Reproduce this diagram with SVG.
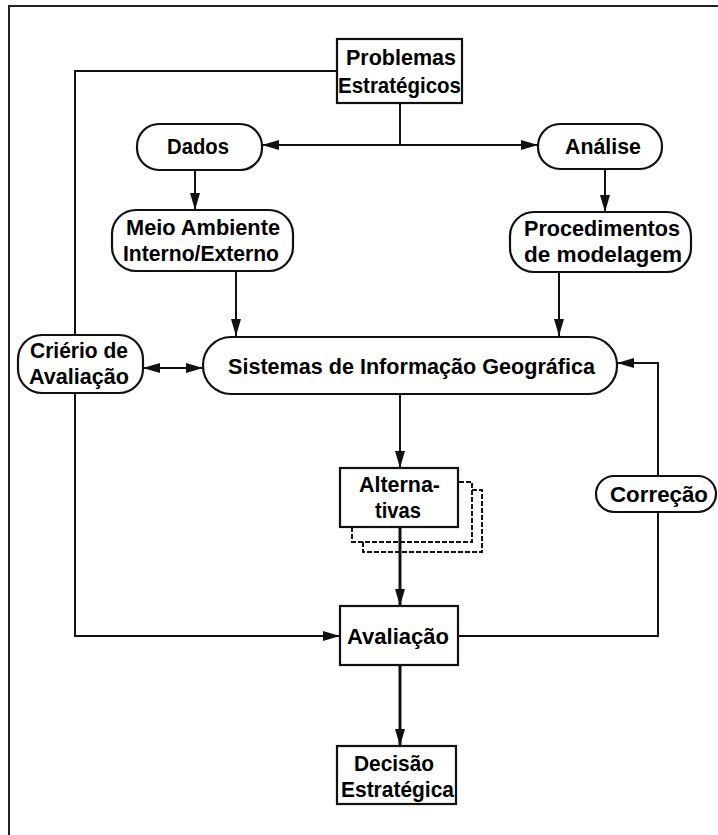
<svg xmlns="http://www.w3.org/2000/svg" width="718" height="835" viewBox="0 0 718 835">
<style>
.bg{fill:#fff}
.frame{fill:none;stroke:#222;stroke-width:2}
.box{fill:#fff;stroke:#111;stroke-width:2.2}
.ln{fill:none;stroke:#111;stroke-width:2}
.thk{fill:none;stroke:#111;stroke-width:3}
.dash{fill:none;stroke:#111;stroke-width:2;stroke-dasharray:5 2}
text{font-family:"Liberation Sans",Arial,sans-serif;font-weight:bold;font-size:22px;fill:#000}
</style>
<defs>
<marker id="ah" viewBox="0 0 17 10" refX="17" refY="5" markerWidth="17" markerHeight="10" markerUnits="userSpaceOnUse" orient="auto-start-reverse">
<path d="M0,0 L17,5 L0,10 Z" fill="#111"/>
</marker>
</defs>
<rect class="bg" x="0" y="0" width="718" height="835"/>
<path class="frame" d="M9,835 V6 H718"/>

<g id="connectors">
<path class="ln" d="M400,103 V145"/>
<path class="ln" d="M400,145 H262" marker-end="url(#ah)"/>
<path class="ln" d="M400,145 H538" marker-end="url(#ah)"/>
<path class="ln" d="M195,170 V210" marker-end="url(#ah)"/>
<path class="ln" d="M605,168 V212" marker-end="url(#ah)"/>
<path class="ln" d="M236,271 V336" marker-end="url(#ah)"/>
<path class="ln" d="M559,272 V336" marker-end="url(#ah)"/>
<path class="ln" d="M143,368 H203" marker-start="url(#ah)" marker-end="url(#ah)"/>
<path class="ln" d="M400,394 V468" marker-end="url(#ah)"/>
<path class="thk" d="M400,527 V606" marker-end="url(#ah)"/>
<path class="thk" d="M400,665 V746" marker-end="url(#ah)"/>
<path class="ln" d="M337,71 H75 V335"/>
<path class="ln" d="M75,393 V636 H340" marker-end="url(#ah)"/>
<path class="ln" d="M458,636 H658 V512"/>
<path class="ln" d="M658,476 V363 H617" marker-end="url(#ah)"/>
</g>

<g id="problemas">
<rect class="box" x="337" y="39" width="125" height="64"/>
<text x="346" y="65" textLength="110" lengthAdjust="spacingAndGlyphs">Problemas</text>
<text x="338" y="93" textLength="123" lengthAdjust="spacingAndGlyphs">Estratégicos</text>
</g>

<g id="dados">
<rect class="box" x="137" y="124" width="125" height="46" rx="22"/>
<text x="167" y="154" textLength="62" lengthAdjust="spacingAndGlyphs">Dados</text>
</g>

<g id="analise">
<rect class="box" x="538" y="124" width="124" height="45" rx="22"/>
<text x="565" y="154" textLength="76" lengthAdjust="spacingAndGlyphs">Análise</text>
</g>

<g id="meio">
<rect class="box" x="112" y="210" width="181" height="61" rx="24"/>
<text x="126" y="235" textLength="154" lengthAdjust="spacingAndGlyphs">Meio Ambiente</text>
<text x="123" y="261" textLength="156" lengthAdjust="spacingAndGlyphs">Interno/Externo</text>
</g>

<g id="procedimentos">
<rect class="box" x="510" y="212" width="181" height="60" rx="24"/>
<text x="524" y="236" textLength="156" lengthAdjust="spacingAndGlyphs">Procedimentos</text>
<text x="524" y="262" textLength="158" lengthAdjust="spacingAndGlyphs">de modelagem</text>
</g>

<g id="criterio">
<rect class="box" x="18" y="335" width="125" height="58" rx="24"/>
<text x="30" y="358" textLength="98" lengthAdjust="spacingAndGlyphs">Criério de</text>
<text x="29" y="384" textLength="100" lengthAdjust="spacingAndGlyphs">Avaliação</text>
</g>

<g id="sig">
<rect class="box" x="203" y="337" width="414" height="57" rx="28"/>
<text x="228" y="374" textLength="367" lengthAdjust="spacingAndGlyphs">Sistemas de Informação Geográfica</text>
</g>

<g id="alternativas">
<path class="dash" d="M363,542 V552 H482 V490 H472"/>
<path class="dash" d="M352,527 V542 H472 V482 H458"/>
<rect class="box" x="340" y="468" width="118" height="59"/>
<text x="359" y="492" textLength="81" lengthAdjust="spacingAndGlyphs">Alterna-</text>
<text x="375" y="518" textLength="46" lengthAdjust="spacingAndGlyphs">tivas</text>
</g>

<g id="correcao">
<rect class="box" x="596" y="476" width="120" height="36" rx="18"/>
<text x="610" y="502" textLength="98" lengthAdjust="spacingAndGlyphs">Correção</text>
</g>

<g id="avaliacao">
<rect class="box" x="340" y="606" width="118" height="59"/>
<text x="347" y="644" textLength="102" lengthAdjust="spacingAndGlyphs">Avaliação</text>
</g>

<g id="decisao">
<rect class="box" x="337" y="746" width="119" height="58"/>
<text x="354" y="771" textLength="80" lengthAdjust="spacingAndGlyphs">Decisão</text>
<text x="341" y="797" textLength="113" lengthAdjust="spacingAndGlyphs">Estratégica</text>
</g>
</svg>
